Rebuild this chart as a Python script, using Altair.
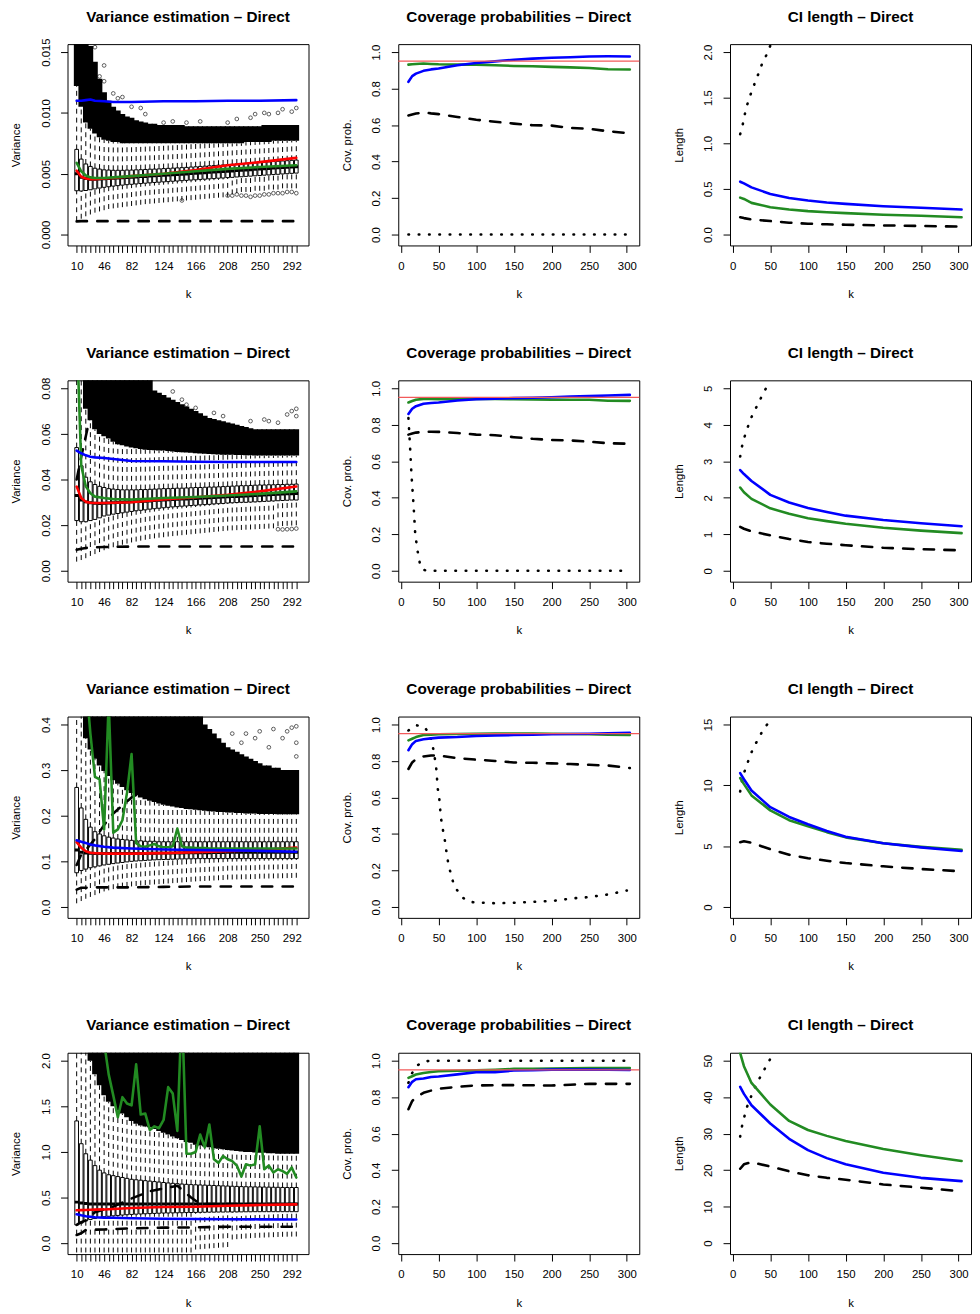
import altair as alt
import pandas as pd

FONT = "Liberation Sans"
BLUE, GREEN, RED, BLACK = "#0000ff", "#228b22", "#ff0000", "#000000"
ABLINE = "#f25a5a"

# ---------------- categories / ticks ----------------
K_BOX = [10, 16, 22, 28, 34, 40, 46, 52, 58, 64, 70, 76, 82, 88, 94, 100, 106, 112, 118, 124,
         130, 136, 142, 148, 154, 160, 166, 172, 178, 184, 190, 196, 202, 208, 214, 220, 226,
         232, 238, 244, 250, 256, 262, 268, 274, 280, 286, 292, 298]
K_LABELS = [10, 46, 82, 124, 166, 208, 250, 292]
K_TICKS = [0, 50, 100, 150, 200, 250, 300]
VAR_K = [10, 16, 22, 28, 34, 46, 58, 82, 124, 166, 208, 250, 298]
COV_K = [10, 15, 20, 30, 40, 50, 75, 100, 125, 150, 175, 200, 225, 250, 275, 304]
LEN_K = [10, 15, 25, 50, 75, 100, 125, 150, 200, 250, 304]

# ---------------- row 1 : boxplots ----------------
R1_Q3 = [0.0070, 0.0062, 0.0058, 0.0056, 0.00545, 0.00538, 0.00532, 0.0053, 0.00528, 0.00528, 0.00528,
         0.0053, 0.0053, 0.00532, 0.00533, 0.00535, 0.00537, 0.00538, 0.0054, 0.00542, 0.00544, 0.00546,
         0.00548, 0.0055, 0.00552, 0.00555, 0.00557, 0.0056, 0.00562, 0.00565, 0.00567, 0.0057, 0.00572,
         0.00575, 0.00577, 0.0058, 0.00582, 0.00585, 0.00587, 0.0059, 0.00592, 0.00595, 0.00597, 0.006,
         0.00602, 0.00605, 0.00607, 0.0061, 0.00612]
R1_Q1 = [0.0036, 0.00358, 0.00362, 0.00368, 0.00375, 0.00382, 0.00388, 0.00393, 0.00398, 0.00402, 0.00406,
         0.0041, 0.00413, 0.00416, 0.00419, 0.00422, 0.00425, 0.00428, 0.0043, 0.00433, 0.00435, 0.00438,
         0.0044, 0.00443, 0.00445, 0.00448, 0.0045, 0.00453, 0.00455, 0.00458, 0.0046, 0.00463, 0.00465,
         0.00468, 0.0047, 0.00473, 0.00475, 0.00478, 0.0048, 0.00483, 0.00485, 0.00488, 0.0049, 0.00493,
         0.00495, 0.00498, 0.005, 0.00503, 0.00505]
R1_MED = [0.0050, 0.0047, 0.0046, 0.00455, 0.00455, 0.00456, 0.00458, 0.0046, 0.00462, 0.00464, 0.00466,
          0.00469, 0.00471, 0.00473, 0.00476, 0.00478, 0.00481, 0.00483, 0.00485, 0.00487, 0.00489, 0.00492,
          0.00494, 0.00496, 0.00498, 0.00501, 0.00503, 0.00506, 0.00508, 0.00511, 0.00513, 0.00516, 0.00518,
          0.00521, 0.00523, 0.00526, 0.00528, 0.00531, 0.00533, 0.00536, 0.00538, 0.00541, 0.00543, 0.00546,
          0.00548, 0.00551, 0.00553, 0.00556, 0.00558]
R1_LOW = [0.0011, 0.0013, 0.0015, 0.00165, 0.0018, 0.0019, 0.002, 0.0021, 0.00215, 0.0022, 0.00225, 0.0023,
          0.00235, 0.0024, 0.00245, 0.0025, 0.00253, 0.00256, 0.0026, 0.00263, 0.00266, 0.0027, 0.00273,
          0.00276, 0.0028, 0.00283, 0.00286, 0.0029, 0.00293, 0.00296, 0.003, 0.00303, 0.00306, 0.0031,
          0.0033, 0.0034, 0.0035, 0.0035, 0.0035, 0.0036, 0.0036, 0.0036, 0.0037, 0.0037, 0.0037, 0.0038,
          0.0038, 0.0038, 0.0038]
R1_CLOUD_LO = ([0.0122, 0.0105, 0.0092, 0.0087, 0.0083, 0.008, 0.0078, 0.0077, 0.0076, 0.0076]
               + [0.0075] * 27 + [0.0076] * 6 + [0.0077] * 6)
R1_CLOUD_HI = ([0.02, 0.02, 0.02, 0.0155, 0.0142, 0.0128, 0.0117, 0.011, 0.0105, 0.0102, 0.0099, 0.0097,
                0.0096, 0.0094, 0.0093, 0.0092, 0.0091, 0.0091] + [0.009] * 6 + [0.0089] * 17 + [0.009] * 8)
R1_OUT_K = [34, 46, 40, 46, 58, 64, 70, 82, 94, 100, 124, 136, 154, 172, 208, 220, 238, 244, 256, 262, 274,
            280, 292, 298, 148, 208, 214, 220, 226, 232, 238, 244, 250, 256, 262, 268, 274, 280, 286, 292, 298]
R1_OUT_V = [0.0154, 0.0139, 0.013, 0.0126, 0.0116, 0.0112, 0.0113, 0.0105, 0.0104, 0.0099, 0.0092, 0.0093,
            0.0092, 0.0093, 0.0092, 0.0095, 0.0096, 0.0099, 0.0100, 0.0099, 0.0100, 0.0103, 0.0101, 0.0104,
            0.0028, 0.0032, 0.0032, 0.0033, 0.0032, 0.0032, 0.0031, 0.0032, 0.0032, 0.0033, 0.0033, 0.0034,
            0.0034, 0.0034, 0.0035, 0.0035, 0.0034]
R1_VAR_RED = [0.00525, 0.00475, 0.0046, 0.00455, 0.00455, 0.0046, 0.00465, 0.0048, 0.0050, 0.0053, 0.0057, 0.00595, 0.0063]
R1_VAR_GREEN = [0.0059, 0.0052, 0.00485, 0.0047, 0.00465, 0.00465, 0.0047, 0.0048, 0.0050, 0.0052, 0.0054, 0.00555, 0.0057]
R1_VAR_BLUE = [0.0110, 0.0110, 0.01105, 0.0111, 0.0110, 0.01095, 0.0109, 0.0109, 0.01095, 0.01095, 0.0110, 0.0110, 0.01105]
R1_VAR_DASH = [0.00108, 0.0011, 0.0011, 0.0011, 0.0011, 0.0011, 0.0011, 0.0011, 0.0011, 0.0011, 0.0011, 0.0011, 0.0011]

# ---------------- row 2 : boxplots ----------------
R2_Q3 = [0.054, 0.046, 0.041, 0.039, 0.0378, 0.037, 0.0365, 0.036, 0.0358, 0.0356, 0.0355, 0.0355, 0.0355,
         0.0355, 0.0356, 0.0356, 0.0357, 0.0358, 0.0359, 0.036, 0.036, 0.0361, 0.0362, 0.0362, 0.0363, 0.0364,
         0.0365, 0.0365, 0.0366, 0.0367, 0.0367, 0.0368, 0.0369, 0.037, 0.0371, 0.0372, 0.0373, 0.0373, 0.0374,
         0.0375, 0.0376, 0.0376, 0.0377, 0.0377, 0.0378, 0.0378, 0.0379, 0.0379, 0.038]
R2_Q1 = [0.022, 0.0215, 0.0215, 0.022, 0.0225, 0.0232, 0.024, 0.0244, 0.0248, 0.0251, 0.0254, 0.0257, 0.026,
         0.0263, 0.0265, 0.0267, 0.027, 0.0272, 0.0274, 0.0276, 0.0278, 0.028, 0.0281, 0.0283, 0.0284, 0.0286,
         0.0287, 0.0289, 0.029, 0.0291, 0.0293, 0.0294, 0.0295, 0.0297, 0.0298, 0.0299, 0.03, 0.03, 0.0301,
         0.0302, 0.0303, 0.0304, 0.0305, 0.0306, 0.0307, 0.0308, 0.0309, 0.031, 0.031]
R2_MED = [0.033, 0.031, 0.0302, 0.0298, 0.0296, 0.0295, 0.0296, 0.0297, 0.0298, 0.0299, 0.03, 0.0301, 0.0302,
          0.0303, 0.0304, 0.0305, 0.0306, 0.0308, 0.0309, 0.031, 0.0311, 0.0312, 0.0313, 0.0314, 0.0315, 0.0316,
          0.0317, 0.0318, 0.0319, 0.032, 0.0321, 0.0322, 0.0323, 0.0324, 0.0325, 0.0326, 0.0327, 0.0328, 0.0329,
          0.033, 0.0331, 0.0332, 0.0333, 0.0334, 0.0335, 0.0336, 0.0337, 0.0338, 0.0339]
R2_LOW = [0.004, 0.0047, 0.0055, 0.0065, 0.0073, 0.0082, 0.009, 0.0097, 0.0103, 0.0109, 0.0114, 0.0119, 0.0124,
          0.0128, 0.0132, 0.0136, 0.0139, 0.0142, 0.0145, 0.0147, 0.015, 0.0152, 0.0154, 0.0156, 0.0158, 0.016,
          0.0162, 0.0164, 0.0166, 0.0168, 0.017, 0.0172, 0.0174, 0.0176, 0.0177, 0.0178, 0.0179, 0.018, 0.0181,
          0.0182, 0.0183, 0.0184, 0.0185, 0.0186, 0.0195, 0.0196, 0.0197, 0.0198, 0.0199]
R2_CLOUD_LO = ([0.1, 0.1, 0.071, 0.066, 0.062, 0.06, 0.059, 0.058, 0.0565, 0.0555, 0.055, 0.0545, 0.054,
                0.0537, 0.0534, 0.0531, 0.0529, 0.0528, 0.0527, 0.0527, 0.0525, 0.0523, 0.0521, 0.052, 0.0518,
                0.0517, 0.0515, 0.0514, 0.0513, 0.0512, 0.0511, 0.051, 0.0509, 0.0508, 0.0508, 0.0507, 0.0507,
                0.0506, 0.0506] + [0.0505] * 10)
R2_CLOUD_HI = ([0.1, 0.1] + [0.1] * 15
               + [0.079, 0.078, 0.077, 0.076, 0.075, 0.074, 0.073, 0.072, 0.071, 0.070, 0.069, 0.068, 0.067,
                  0.0665, 0.066, 0.0655, 0.065, 0.0645, 0.064, 0.0635, 0.063, 0.0625, 0.062, 0.062] + [0.062] * 8)
R2_OUT_K = [136, 148, 154, 166, 190, 202, 238, 256, 262, 274, 286, 292, 298, 298, 274, 280, 286, 292, 298]
R2_OUT_V = [0.0786, 0.075, 0.0728, 0.0714, 0.0692, 0.0678, 0.0656, 0.0663, 0.0656, 0.0649, 0.0685, 0.070,
            0.071, 0.0678, 0.0182, 0.0181, 0.0182, 0.0183, 0.0185]
R2_VAR_RED = [0.0369, 0.0319, 0.0302, 0.0298, 0.0297, 0.0297, 0.0298, 0.0300, 0.0312, 0.0322, 0.0333, 0.0348, 0.0369]
R2_VAR_GREEN = [0.1075, 0.046, 0.037, 0.034, 0.0325, 0.0319, 0.0314, 0.0312, 0.0319, 0.0323, 0.033, 0.0337, 0.0348]
R2_VAR_BLUE = [0.0527, 0.0515, 0.0506, 0.0500, 0.0497, 0.0494, 0.0490, 0.0481, 0.0480, 0.0478, 0.0477, 0.0477, 0.0477]
R2_VAR_DASH = [0.0092, 0.0096, 0.0100, 0.0102, 0.0103, 0.0104, 0.0105, 0.0106, 0.0106, 0.0106, 0.0106, 0.0106, 0.0106]
R2_VAR_DASH2 = [0.040, 0.050, 0.059, 0.068, 0.072, 0.072, 0.070, 0.068, 0.066, 0.063, 0.060, 0.058, 0.056]

# ---------------- row 3 : boxplots ----------------
R3_Q3 = [0.262, 0.217, 0.192, 0.175, 0.165, 0.16, 0.156, 0.153, 0.151, 0.149, 0.148, 0.147, 0.146, 0.145,
         0.145, 0.144, 0.144, 0.144, 0.143, 0.143] + [0.143] * 29
R3_Q1 = [0.075, 0.08, 0.083, 0.086, 0.088, 0.09, 0.092, 0.0935, 0.095, 0.0963, 0.0975, 0.0988, 0.1, 0.1007,
         0.1013, 0.102, 0.1026, 0.1032, 0.1036, 0.104, 0.1043, 0.1046, 0.1049, 0.1052, 0.1054, 0.1056,
         0.1058] + [0.106] * 22
R3_MED = ([0.125, 0.12, 0.118, 0.1175] + [0.117] * 10 + [0.1172, 0.1174, 0.1176, 0.1178] + [0.118] * 4
          + [0.1182, 0.1184, 0.1186, 0.1188] + [0.119] * 4 + [0.1192, 0.1194, 0.1196, 0.1198] + [0.12] * 15)
R3_LOW = [0.008, 0.013, 0.018, 0.022, 0.026, 0.03, 0.034, 0.0365, 0.039, 0.041, 0.0425, 0.044, 0.045, 0.046,
          0.047, 0.048, 0.0487, 0.0494, 0.05, 0.0508, 0.0515, 0.0522, 0.053, 0.0537, 0.0545, 0.0552, 0.056,
          0.0565, 0.057, 0.0575, 0.058, 0.0585, 0.059, 0.06, 0.0602, 0.0604, 0.0606, 0.0608, 0.061, 0.0612,
          0.062, 0.0622, 0.0624, 0.0626, 0.0628, 0.063, 0.0633, 0.0636, 0.064]
R3_CLOUD_LO = [0.5, 0.5, 0.37, 0.345, 0.325, 0.31, 0.298, 0.287, 0.278, 0.27, 0.263, 0.256, 0.25, 0.245, 0.24,
               0.236, 0.233, 0.23, 0.227, 0.224, 0.222, 0.22, 0.218, 0.217, 0.215, 0.214, 0.213, 0.212, 0.211,
               0.21, 0.209, 0.208, 0.208, 0.207, 0.207, 0.206, 0.206, 0.205, 0.205, 0.205, 0.204, 0.204, 0.204,
               0.204, 0.203, 0.203, 0.203, 0.203, 0.203]
R3_CLOUD_HI = [0.5] * 27 + [0.42, 0.40, 0.39, 0.38, 0.37, 0.36, 0.35, 0.345, 0.34, 0.335, 0.33, 0.325, 0.32,
                            0.315, 0.31, 0.31, 0.305, 0.305, 0.30, 0.30, 0.30, 0.30]
R3_OUT_K = [214, 226, 232, 244, 250, 262, 268, 280, 286, 292, 298, 298, 298]
R3_OUT_V = [0.38, 0.36, 0.38, 0.37, 0.385, 0.35, 0.39, 0.37, 0.385, 0.393, 0.396, 0.36, 0.33]
R3_VAR_RED = [0.142, 0.130, 0.122, 0.119, 0.118, 0.117, 0.117, 0.117, 0.118, 0.120, 0.122, 0.125, 0.130]
R3_VAR_BLUE = [0.146, 0.143, 0.140, 0.137, 0.135, 0.132, 0.130, 0.128, 0.126, 0.125, 0.124, 0.123, 0.121]
R3_VAR_DASH = [0.038, 0.042, 0.042, 0.043, 0.043, 0.043, 0.043, 0.043, 0.044, 0.045, 0.045, 0.045, 0.045]
R3_VAR_DASH2 = [0.092, 0.115, 0.125, 0.137, 0.149, 0.18, 0.205, 0.24, 0.28, 0.28, 0.26, 0.25, 0.25]
R3_VAR_GREEN = ([0.60, 0.55, 0.50, 0.38, 0.285, 0.28, 0.17, 0.45, 0.163, 0.17, 0.19, 0.25, 0.335, 0.14, 0.133,
                 0.132, 0.135, 0.138, 0.133, 0.131, 0.131, 0.133, 0.172, 0.133, 0.130, 0.130, 0.129, 0.129,
                 0.129] + [0.128] * 20)

# ---------------- row 4 : boxplots ----------------
R4_Q3 = [1.34, 1.09, 0.98, 0.91, 0.85, 0.80, 0.77, 0.75, 0.74, 0.73, 0.72, 0.71, 0.70, 0.695, 0.69, 0.685,
         0.68, 0.675, 0.67, 0.665, 0.66, 0.656, 0.652, 0.648, 0.645, 0.642, 0.64, 0.638, 0.636, 0.634, 0.632,
         0.63, 0.628, 0.626, 0.624, 0.622, 0.62, 0.619, 0.618, 0.617, 0.616, 0.615, 0.614, 0.613, 0.612,
         0.611, 0.61, 0.61, 0.61]
R4_Q1 = [0.20, 0.22, 0.245, 0.26, 0.27, 0.28, 0.29, 0.295, 0.30, 0.304, 0.308, 0.312, 0.315, 0.318, 0.32,
         0.322, 0.324, 0.326, 0.328, 0.33, 0.331, 0.332, 0.333, 0.334, 0.335, 0.336, 0.337, 0.338, 0.339, 0.34,
         0.34, 0.341, 0.341, 0.342, 0.342, 0.343, 0.343, 0.344, 0.344] + [0.345] * 10
R4_MED = [0.45, 0.44, 0.435] + [0.43] * 46
R4_LOW = ([-0.2] * 26 + [-0.07, -0.066, -0.062, -0.058, -0.054, -0.05, -0.046, -0.042]
          + [0.04, 0.044, 0.048, 0.052, 0.055, 0.058, 0.06, 0.062, 0.064, 0.066, 0.068, 0.07, 0.071, 0.072, 0.073])
R4_CLOUD_LO = [2.5, 2.5, 2.5, 2.0, 1.85, 1.73, 1.62, 1.55, 1.50, 1.46, 1.42, 1.38, 1.34, 1.31, 1.29, 1.28, 1.27,
               1.25, 1.23, 1.21, 1.19, 1.17, 1.15, 1.13, 1.11, 1.10, 1.08, 1.07, 1.06, 1.05, 1.04, 1.035, 1.03,
               1.02, 1.015, 1.01, 1.005, 1.0, 1.0, 0.995, 0.99, 0.99, 0.985, 0.985, 0.98, 0.98, 0.98, 0.98, 0.98]
R4_CLOUD_HI = [2.5] * 49
R4_OUT_K = []
R4_OUT_V = []
R4_VAR_RED = [0.36, 0.362, 0.364, 0.366, 0.368, 0.37, 0.375, 0.385, 0.396, 0.40, 0.41, 0.418, 0.425]
R4_VAR_BLUE = [0.317, 0.305, 0.295, 0.29, 0.285, 0.28, 0.278, 0.274, 0.267, 0.265, 0.263, 0.261, 0.26]
R4_VAR_DASH = [0.09, 0.108, 0.144, 0.146, 0.148, 0.15, 0.155, 0.162, 0.17, 0.173, 0.18, 0.18, 0.18]
R4_DASH2_K = [10, 16, 22, 34, 46, 58, 82, 106, 124, 142, 160, 172, 208, 250, 298]
R4_VAR_DASH2 = [0.2, 0.23, 0.25, 0.34, 0.37, 0.40, 0.49, 0.57, 0.60, 0.63, 0.50, 0.43, 0.43, 0.43, 0.43]
R4_VAR_GREEN = [3.2, 3.0, 2.8, 2.7, 2.6, 2.4, 2.2, 1.85, 1.62, 1.38, 1.60, 1.53, 1.51, 1.96, 1.41, 1.42, 1.24,
                1.28, 1.26, 1.35, 1.71, 1.64, 1.23, 2.6, 0.98, 0.98, 1.0, 1.19, 1.05, 1.30, 0.92, 0.88, 0.955,
                0.92, 0.90, 0.85, 0.73, 0.865, 0.85, 0.865, 1.28, 0.81, 0.85, 0.775, 0.81, 0.79, 0.76, 0.83, 0.72]

# ---------------- coverage probabilities ----------------
R1_COV_BLUE = [.837, .868, .882, .897, .905, .910, .928, .940, .949, .958, .964, .969, .972, .976, .977, .976]
R1_COV_GREEN = [.931, .933, .935, .937, .935, .933, .931, .931, .928, .924, .922, .919, .916, .913, .906, .904]
R1_COV_DASH = [.653, .658, .663, .669, .664, .660, .644, .629, .618, .608, .599, .597, .584, .579, .566, .555]
R1_COV_DOT_K = [10, 300]
R1_COV_DOT = [0.0, 0.0]
R2_COV_BLUE = [.859, .888, .902, .915, .919, .922, .933, .940, .943, .946, .948, .951, .954, .957, .960, .964]
R2_COV_GREEN = [.922, .930, .937, .942, .941, .940, .941, .942, .941, .940, .938, .937, .937, .937, .932, .931]
R2_COV_DASH = [.746, .752, .757, .761, .762, .761, .755, .746, .743, .732, .723, .717, .714, .707, .699, .696]
R2_COV_DOT_K = [10, 12, 14, 17, 19, 22, 26, 30, 36, 300]
R2_COV_DOT = [.837, .692, .529, .348, .203, .112, .022, .005, 0.0, 0.0]
R3_COV_BLUE = [.859, .892, .910, .919, .924, .928, .931, .937, .940, .942, .944, .946, .948, .949, .952, .955]
R3_COV_GREEN = [.913, .922, .931, .942, .944, .946, .948, .949, .950, .951, .950, .949, .948, .946, .944, .942]
R3_COV_DASH = [.756, .792, .810, .825, .830, .830, .815, .807, .800, .792, .790, .787, .783, .779, .775, .761]
R3_COV_DOT_K = [10, 20, 31, 38, 41, 44, 47, 49, 51, 53, 55, 58, 61, 63, 66, 69, 74, 82, 93, 106, 128, 154,
                180, 202, 228, 250, 276, 300]
R3_COV_DOT = [.967, .996, .987, .949, .904, .846, .756, .647, .593, .494, .439, .376, .286, .237, .186, .141,
              .096, .051, .027, .024, .020, .024, .029, .033, .047, .054, .069, .090]
R4_COV_BLUE = [.855, .884, .898, .902, .911, .913, .925, .937, .937, .946, .948, .951, .951, .951, .950, .949]
R4_COV_GREEN = [.906, .915, .924, .933, .938, .942, .945, .947, .950, .955, .956, .957, .958, .960, .960, .960]
R4_COV_DASH = [.734, .779, .801, .824, .836, .846, .857, .864, .866, .866, .865, .864, .868, .873, .873, .873]
R4_COV_DOT_K = [10, 15, 22, 32, 40, 300]
R4_COV_DOT = [.879, .933, .975, .996, 1.0, 1.0]
NOMINAL = 0.95

# ---------------- CI length ----------------
R1_LEN_BLUE = [.579, .56, .517, .445, .40, .373, .352, .336, .311, .293, .275]
R1_LEN_GREEN = [.405, .39, .347, .30, .275, .257, .245, .235, .217, .206, .19]
R1_LEN_DASH = [.19, .18, .165, .148, .13, .119, .112, .108, .10, .094, .087]
R1_LEN_DOT_K = [10, 13, 18, 22, 26, 31, 35, 39, 45, 50]
R1_LEN_DOT = [1.10, 1.19, 1.39, 1.49, 1.59, 1.69, 1.78, 1.87, 1.97, 2.07]
R2_LEN_BLUE = [2.76, 2.65, 2.46, 2.08, 1.87, 1.72, 1.61, 1.51, 1.39, 1.30, 1.22]
R2_LEN_GREEN = [2.28, 2.15, 1.97, 1.71, 1.56, 1.44, 1.36, 1.29, 1.18, 1.10, 1.03]
R2_LEN_DASH = [1.20, 1.15, 1.08, 0.97, 0.87, 0.79, 0.74, 0.70, 0.63, 0.59, 0.56]
R2_LEN_DOT_K = [10, 12, 15, 19, 23, 28, 34, 39, 45]
R2_LEN_DOT = [3.13, 3.37, 3.62, 3.87, 4.11, 4.35, 4.57, 4.80, 5.03]
R3_LEN_BLUE = [11.0, 10.5, 9.57, 8.2, 7.4, 6.8, 6.25, 5.77, 5.23, 4.9, 4.6]
R3_LEN_GREEN = [10.6, 10.1, 9.17, 7.94, 7.13, 6.64, 6.15, 5.72, 5.23, 4.94, 4.69]
R3_LEN_DASH = [5.32, 5.40, 5.28, 4.75, 4.29, 4.01, 3.80, 3.61, 3.34, 3.12, 2.93]
R3_LEN_DOT_K = [10, 12, 15, 19, 23, 28, 34, 40, 47]
R3_LEN_DOT = [9.49, 10.25, 11.0, 11.7, 12.4, 13.15, 13.8, 14.5, 15.1]
R4_LEN_BLUE = [42.8, 40.9, 37.8, 32.8, 28.6, 25.5, 23.3, 21.6, 19.3, 17.9, 17.0]
R4_LEN_GREEN = [52.1, 48.5, 43.9, 38.0, 33.5, 31.0, 29.4, 28.0, 25.8, 24.1, 22.5]
R4_LEN_DASH = [20.4, 21.6, 22.2, 21.0, 19.7, 18.6, 17.9, 17.4, 16.1, 15.2, 14.2]
R4_LEN_DOT_K = [10, 12, 15, 18, 22, 27, 32, 38, 44, 50]
R4_LEN_DOT = [29.2, 31.7, 34.2, 36.7, 39.0, 41.4, 43.8, 46.0, 48.3, 50.5]

# ---------------- y tick sets ----------------
VAR_TICKS = [([0, 0.005, 0.010, 0.015], ".3f"), ([0, 0.02, 0.04, 0.06, 0.08], ".2f"),
             ([0, 0.1, 0.2, 0.3, 0.4], ".1f"), ([0, 0.5, 1.0, 1.5, 2.0], ".1f")]
COV_TICKS = ([0, 0.2, 0.4, 0.6, 0.8, 1.0], ".1f")
LEN_TICKS = [([0, 0.5, 1.0, 1.5, 2.0], ".1f"), ([0, 1, 2, 3, 4, 5], "d"),
             ([0, 5, 10, 15], "d"), ([0, 10, 20, 30, 40, 50], "d")]

TITLE_VAR = "Variance estimation \u2013 Direct"
TITLE_COV = "Coverage probabilities \u2013 Direct"
TITLE_LEN = "CI length \u2013 Direct"

# ---------------- style ----------------
W, H = 243, 203
LW = 2.6
DASH = [10.4, 10.4]
DOT = [0.6, 9.8]
WHISK = [5, 4]
X_BOX_DOMAIN = [-2, 314]
X_LINE_DOMAIN = [-3.5, 316.5]
TITLE_Y = -22.8

AX = dict(tickSize=7, tickColor="black", tickWidth=1, domain=False, grid=False,
          labelFont=FONT, labelFontSize=11.5, labelColor="black",
          titleFont=FONT, titleFontSize=11.5, titleFontWeight="normal", titleColor="black",
          labelOverlap=False, labelFlush=False)


def ydom(ticks):
    lo, hi = ticks[0], ticks[-1]
    s = (hi - lo) / 184.0
    return [lo - 11 * s, hi + 8 * s]


def yaxis(title, ticks, fmt):
    return alt.Axis(title=title, values=ticks, format=fmt, labelAngle=270, labelAlign="center",
                    labelBaseline="bottom", labelPadding=9.5, titlePadding=18.5, **AX)


def xaxis_box():
    expr = "indexof(%s, datum.value) >= 0 ? datum.label : ''" % str(K_LABELS)
    return alt.Axis(title="k", values=K_BOX, labelExpr=expr, labelPadding=8, titlePadding=17, **AX)


def xaxis_line():
    return alt.Axis(title="k", values=K_TICKS, format="d", labelPadding=8, titlePadding=17, **AX)


def title_layer(text):
    return alt.Chart(pd.DataFrame({"t": [text]})).mark_text(
        font=FONT, fontSize=15.4, fontWeight="bold", color="black", align="center", baseline="alphabetic"
    ).encode(text="t:N", x=alt.value(W / 2), y=alt.value(TITLE_Y))


def line_layer(k, v, color, xs, xa, ys, ya, dash=None, width=LW):
    assert len(k) == len(v), (len(k), len(v))
    df = pd.DataFrame({"k": k, "v": v})
    mk = dict(color=color, strokeWidth=width, clip=True, strokeCap="round", strokeJoin="round")
    if dash:
        mk["strokeDash"] = dash
    return alt.Chart(df).mark_line(**mk).encode(
        x=alt.X("k:Q", scale=xs, axis=xa), y=alt.Y("v:Q", scale=ys, axis=ya))


def var_panel(q1, med, q3, low, clo, chi, out_k, out_v, lines, ticks, fmt):
    for arr in (q1, med, q3, low, clo, chi):
        assert len(arr) == len(K_BOX), len(arr)
    xs = alt.Scale(domain=X_BOX_DOMAIN, nice=False, zero=False)
    ys = alt.Scale(domain=ydom(ticks), nice=False, zero=False)
    xa = xaxis_box()
    ya = yaxis("Variance", ticks, fmt)
    df = pd.DataFrame({"k": K_BOX, "q1": q1, "med": med, "q3": q3, "low": low, "clo": clo, "chi": chi})
    base = alt.Chart(df).transform_calculate(
        kl="datum.k - 2.4", kr="datum.k + 2.4", cl="datum.k - 3.7", cr="datum.k + 3.7")
    cloud = base.mark_rect(color=BLACK, clip=True).encode(
        x=alt.X("cl:Q", scale=xs, axis=xa), x2="cr:Q",
        y=alt.Y("clo:Q", scale=ys, axis=ya), y2="chi:Q")
    up = base.mark_rule(color=BLACK, strokeWidth=1, strokeDash=WHISK, clip=True).encode(
        x=alt.X("k:Q", scale=xs, axis=xa), y=alt.Y("q3:Q", scale=ys, axis=ya), y2="clo:Q")
    dn = base.mark_rule(color=BLACK, strokeWidth=1, strokeDash=WHISK, clip=True).encode(
        x=alt.X("k:Q", scale=xs, axis=xa), y=alt.Y("low:Q", scale=ys, axis=ya), y2="q1:Q")
    box = base.mark_rect(fill="white", stroke=BLACK, strokeWidth=1, clip=True).encode(
        x=alt.X("kl:Q", scale=xs, axis=xa), x2="kr:Q",
        y=alt.Y("q1:Q", scale=ys, axis=ya), y2="q3:Q")
    md = base.mark_rule(color=BLACK, strokeWidth=3, clip=True).encode(
        x=alt.X("kl:Q", scale=xs, axis=xa), x2="kr:Q", y=alt.Y("med:Q", scale=ys, axis=ya))
    layers = [cloud, up, dn, box, md]
    if out_k:
        odf = pd.DataFrame({"k": out_k, "v": out_v})
        layers.append(alt.Chart(odf).mark_point(shape="circle", filled=False, size=14, color=BLACK,
                                                strokeWidth=0.9, clip=True).encode(
            x=alt.X("k:Q", scale=xs, axis=xa), y=alt.Y("v:Q", scale=ys, axis=ya)))
    for (k, v, color, dash) in lines:
        layers.append(line_layer(k, v, color, xs, xa, ys, ya, dash))
    layers.append(title_layer(TITLE_VAR))
    return alt.layer(*layers).properties(width=W, height=H)


def cov_panel(blue, green, dash, dot_k, dot):
    ticks, fmt = COV_TICKS
    xs = alt.Scale(domain=X_LINE_DOMAIN, nice=False, zero=False)
    ys = alt.Scale(domain=ydom(ticks), nice=False, zero=False)
    xa = xaxis_line()
    ya = yaxis("Cov. prob.", ticks, fmt)
    layers = [
        line_layer(COV_K, dash, BLACK, xs, xa, ys, ya, DASH),
        line_layer(dot_k, dot, BLACK, xs, xa, ys, ya, DOT),
        line_layer(COV_K, green, GREEN, xs, xa, ys, ya),
        line_layer(COV_K, blue, BLUE, xs, xa, ys, ya),
        alt.Chart(pd.DataFrame({"v": [NOMINAL]})).mark_rule(color=ABLINE, strokeWidth=1.3).encode(
            y=alt.Y("v:Q", scale=ys, axis=ya)),
        title_layer(TITLE_COV),
    ]
    return alt.layer(*layers).properties(width=W, height=H)


def len_panel(blue, green, dash, dot_k, dot, ticks, fmt):
    xs = alt.Scale(domain=X_LINE_DOMAIN, nice=False, zero=False)
    ys = alt.Scale(domain=ydom(ticks), nice=False, zero=False)
    xa = xaxis_line()
    ya = yaxis("Length", ticks, fmt)
    layers = [
        line_layer(LEN_K, dash, BLACK, xs, xa, ys, ya, DASH),
        line_layer(dot_k, dot, BLACK, xs, xa, ys, ya, DOT),
        line_layer(LEN_K, green, GREEN, xs, xa, ys, ya),
        line_layer(LEN_K, blue, BLUE, xs, xa, ys, ya),
        title_layer(TITLE_LEN),
    ]
    return alt.layer(*layers).properties(width=W, height=H)


rows = []
v1 = var_panel(R1_Q1, R1_MED, R1_Q3, R1_LOW, R1_CLOUD_LO, R1_CLOUD_HI, R1_OUT_K, R1_OUT_V,
               [(VAR_K, R1_VAR_DASH, BLACK, DASH), (VAR_K, R1_VAR_RED, RED, None),
                (VAR_K, R1_VAR_GREEN, GREEN, None), (VAR_K, R1_VAR_BLUE, BLUE, None)], *VAR_TICKS[0])
rows.append(alt.hconcat(v1, cov_panel(R1_COV_BLUE, R1_COV_GREEN, R1_COV_DASH, R1_COV_DOT_K, R1_COV_DOT),
                        len_panel(R1_LEN_BLUE, R1_LEN_GREEN, R1_LEN_DASH, R1_LEN_DOT_K, R1_LEN_DOT, *LEN_TICKS[0]),
                        spacing=31.5))
v2 = var_panel(R2_Q1, R2_MED, R2_Q3, R2_LOW, R2_CLOUD_LO, R2_CLOUD_HI, R2_OUT_K, R2_OUT_V,
               [(VAR_K, R2_VAR_DASH, BLACK, DASH), (VAR_K, R2_VAR_DASH2, BLACK, DASH),
                (VAR_K, R2_VAR_RED, RED, None), (VAR_K, R2_VAR_GREEN, GREEN, None),
                (VAR_K, R2_VAR_BLUE, BLUE, None)], *VAR_TICKS[1])
rows.append(alt.hconcat(v2, cov_panel(R2_COV_BLUE, R2_COV_GREEN, R2_COV_DASH, R2_COV_DOT_K, R2_COV_DOT),
                        len_panel(R2_LEN_BLUE, R2_LEN_GREEN, R2_LEN_DASH, R2_LEN_DOT_K, R2_LEN_DOT, *LEN_TICKS[1]),
                        spacing=31.5))
v3 = var_panel(R3_Q1, R3_MED, R3_Q3, R3_LOW, R3_CLOUD_LO, R3_CLOUD_HI, R3_OUT_K, R3_OUT_V,
               [(VAR_K, R3_VAR_DASH, BLACK, DASH), (VAR_K, R3_VAR_DASH2, BLACK, DASH),
                (VAR_K, R3_VAR_RED, RED, None), (K_BOX, R3_VAR_GREEN, GREEN, None),
                (VAR_K, R3_VAR_BLUE, BLUE, None)], *VAR_TICKS[2])
rows.append(alt.hconcat(v3, cov_panel(R3_COV_BLUE, R3_COV_GREEN, R3_COV_DASH, R3_COV_DOT_K, R3_COV_DOT),
                        len_panel(R3_LEN_BLUE, R3_LEN_GREEN, R3_LEN_DASH, R3_LEN_DOT_K, R3_LEN_DOT, *LEN_TICKS[2]),
                        spacing=31.5))
v4 = var_panel(R4_Q1, R4_MED, R4_Q3, R4_LOW, R4_CLOUD_LO, R4_CLOUD_HI, R4_OUT_K, R4_OUT_V,
               [(VAR_K, R4_VAR_DASH, BLACK, DASH), (R4_DASH2_K, R4_VAR_DASH2, BLACK, DASH),
                (VAR_K, R4_VAR_RED, RED, None), (K_BOX, R4_VAR_GREEN, GREEN, None),
                (VAR_K, R4_VAR_BLUE, BLUE, None)], *VAR_TICKS[3])
rows.append(alt.hconcat(v4, cov_panel(R4_COV_BLUE, R4_COV_GREEN, R4_COV_DASH, R4_COV_DOT_K, R4_COV_DOT),
                        len_panel(R4_LEN_BLUE, R4_LEN_GREEN, R4_LEN_DASH, R4_LEN_DOT_K, R4_LEN_DOT, *LEN_TICKS[3]),
                        spacing=31.5))

chart = alt.vconcat(*rows, spacing=44).properties(
    padding={"left": 2, "top": -5, "right": 0, "bottom": 0}, background="white"
).configure_view(stroke="black", strokeWidth=1)

chart.save("out.html", embed_options={"renderer": "svg", "actions": False})
